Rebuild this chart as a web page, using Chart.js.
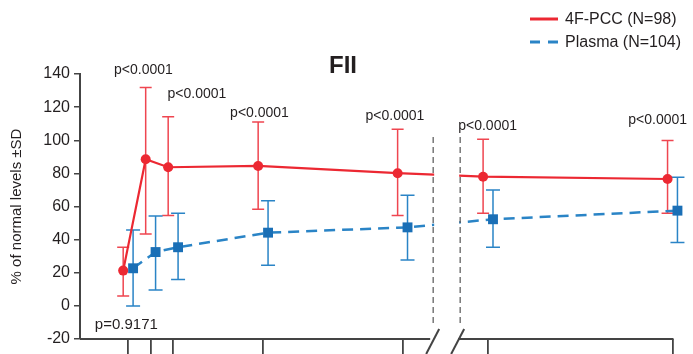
<!DOCTYPE html>
<html>
<head>
<meta charset="utf-8">
<script src="https://cdn.jsdelivr.net/npm/chart.js@4.4.1/dist/chart.umd.min.js"></script>
<style>
  html, body { margin: 0; padding: 0; background: #fff; overflow: hidden; }
  #wrap { width: 693px; height: 354px; position: relative; }
</style>
</head>
<body>
<div id="wrap"><canvas id="c"></canvas></div>
<script>
// FII levels, 4F-PCC vs Plasma, mean +/- SD
// time points sit on an axis with a break between 6.1 and 8
const timePos = [0, 0.5, 1, 3, 6.1, 8, 12.1];

const pccMean = [21.3, 88.5, 83.7, 84.5, 80.1, 78.0, 76.6];
const pccHigh = [35.4, 131.8, 114.2, 111.0, 106.6, 100.6, 99.8];
const pccLow  = [6.0, 43.4, 54.5, 58.3, 54.5, 55.9, 55.9];

const plasmaMean = [22.7, 32.5, 35.4, 44.2, 47.4, 52.3, 57.5];
const plasmaHigh = [45.8, 54.3, 55.9, 63.5, 66.8, 70.0, 77.7];
const plasmaLow  = [0.0, 9.6, 16.0, 24.5, 27.7, 35.4, 38.2];

const yTicks = [-20, 0, 20, 40, 60, 80, 100, 120, 140];

// p-value notes: text, anchor on axis units / data units
const pText = ['p=0.9171', 'p<0.0001', 'p<0.0001', 'p<0.0001', 'p<0.0001', 'p<0.0001', 'p<0.0001'];
const pAtX  = [-0.04, 0.34, 1.53, 2.92, 5.93, 7.99, 11.77];
const pAtY  = [-11.5, 142.5, 128, 116.5, 114.7, 108.6, 112.3];

const breakFrom = 6.78, breakTo = 7.38;

const RED = '#ec2832', RED_BAR = '#ef4650';
const BLUE = '#2a84c6', BLUE_MARK = '#1a6fb6';
const FONT = '"Liberation Sans", Arial, Helvetica, sans-serif';
const SHIFT = 0.11;

const pts = (xs, ys, dx) => xs.map((x, i) => ({ x: x + dx, y: ys[i] }));

const errorBars = {
  id: 'errorBars',
  beforeDatasetsDraw(chart) {
    const { ctx, scales: { x, y } } = chart;
    const sets = [
      { hi: pccHigh, lo: pccLow, dx: -SHIFT, col: RED_BAR, cap: 6 },
      { hi: plasmaHigh, lo: plasmaLow, dx: SHIFT, col: BLUE, cap: 7 }
    ];
    ctx.save();
    sets.forEach(s => {
      ctx.strokeStyle = s.col;
      ctx.lineWidth = 1.5;
      timePos.forEach((t, i) => {
        const px = x.getPixelForValue(t + s.dx);
        const top = y.getPixelForValue(s.hi[i]), bot = y.getPixelForValue(s.lo[i]);
        ctx.beginPath();
        ctx.moveTo(px, top); ctx.lineTo(px, bot);
        ctx.moveTo(px - s.cap, top); ctx.lineTo(px + s.cap, top);
        ctx.moveTo(px - s.cap, bot); ctx.lineTo(px + s.cap, bot);
        ctx.stroke();
      });
    });
    ctx.restore();
  },
  afterDatasetsDraw(chart) {
    const { ctx, chartArea, scales: { x, y } } = chart;
    const b1 = x.getPixelForValue(breakFrom), b2 = x.getPixelForValue(breakTo);
    ctx.save();
    // blank the lines inside the axis break
    ctx.fillStyle = '#fff';
    ctx.fillRect(b1 + 1, chartArea.top - 2, b2 - b1 - 2, chartArea.bottom - chartArea.top);
    // dashed break guides
    ctx.strokeStyle = '#555';
    ctx.lineWidth = 1.2;
    ctx.setLineDash([6, 4]);
    const gTop = y.getPixelForValue(102), gBot = y.getPixelForValue(-12.7);
    [b1, b2].forEach(bx => {
      ctx.beginPath(); ctx.moveTo(bx, gTop); ctx.lineTo(bx, gBot); ctx.stroke();
    });
    ctx.setLineDash([]);
    // x axis line with break slashes
    const ay = chartArea.bottom;
    const xEnd = x.getPixelForValue(timePos[timePos.length - 1]);
    ctx.strokeStyle = '#444';
    ctx.lineWidth = 2;
    ctx.beginPath();
    ctx.moveTo(chartArea.left, ay); ctx.lineTo(b1 - 3, ay);
    ctx.moveTo(b2 - 2, ay); ctx.lineTo(xEnd + 1, ay);
    ctx.stroke();
    [b1, b2 - 2].forEach(bx => {
      ctx.beginPath(); ctx.moveTo(bx - 7, ay + 15); ctx.lineTo(bx + 6, ay - 10); ctx.stroke();
    });
    ctx.restore();
  },
  afterDraw(chart) {
    const { ctx, scales: { x, y } } = chart;
    ctx.save();
    ctx.fillStyle = '#231f20';
    ctx.textAlign = 'center';
    ctx.textBaseline = 'middle';
    pText.forEach((t, i) => {
      ctx.font = (i === 0 ? '15px ' : '14px ') + FONT;
      ctx.fillText(t, x.getPixelForValue(pAtX[i]), y.getPixelForValue(pAtY[i]));
    });
    // panel title
    ctx.font = 'bold 24px ' + FONT;
    ctx.fillText('FII', 343, 66);
    // legend
    const ds = chart.data.datasets;
    ctx.textAlign = 'left';
    ctx.font = '16px ' + FONT;
    ds.forEach((d, i) => {
      const ly = 19 + i * 23;
      ctx.strokeStyle = d.borderColor;
      ctx.lineWidth = 3;
      ctx.setLineDash(i === 0 ? [] : [10, 8]);
      ctx.beginPath(); ctx.moveTo(530, ly); ctx.lineTo(558, ly); ctx.stroke();
      ctx.setLineDash([]);
      ctx.fillStyle = '#231f20';
      ctx.fillText(d.label, 565, ly + 1);
    });
    ctx.restore();
  }
};

new Chart(document.getElementById('c'), {
  type: 'line',
  data: {
    datasets: [
      {
        label: '4F-PCC (N=98)',
        data: pts(timePos, pccMean, -SHIFT),
        borderColor: RED, backgroundColor: RED,
        borderWidth: 2.2, pointRadius: 5, pointStyle: 'circle',
        pointBackgroundColor: RED, pointBorderWidth: 0
      },
      {
        label: 'Plasma (N=104)',
        data: pts(timePos, plasmaMean, SHIFT),
        borderColor: BLUE, backgroundColor: BLUE_MARK,
        borderWidth: 2.5, borderDash: [11, 7],
        pointRadius: 7, pointStyle: 'rect',
        pointBackgroundColor: BLUE_MARK, pointBorderWidth: 0
      }
    ]
  },
  options: {
    responsive: true, maintainAspectRatio: false, animation: false,
    layout: { padding: { top: 74, right: 0, left: 0, bottom: 0 } },
    plugins: { legend: { display: false }, tooltip: { enabled: false } },
    scales: {
      x: {
        type: 'linear', min: -1.07, max: 12.4,
        afterBuildTicks: s => { s.ticks = timePos.map(v => ({ value: v })); },
        afterFit: s => { s.height = 15; },
        border: { display: false },
        grid: { drawOnChartArea: false, tickLength: 15, color: '#444', lineWidth: 1.8 },
        ticks: { display: false }
      },
      y: {
        min: -20, max: 140,
        afterBuildTicks: s => { s.ticks = yTicks.map(v => ({ value: v })); },
        afterFit: s => { s.width = 80; },
        border: { display: true, color: '#444', width: 2 },
        grid: { drawOnChartArea: false, tickLength: 6, color: '#444', lineWidth: 1.5 },
        ticks: { padding: 4, color: '#231f20', font: { family: FONT, size: 16 } },
        title: {
          display: true, text: '% of normal levels ±SD',
          color: '#231f20', font: { family: FONT, size: 15 },
          padding: { top: 8, bottom: 0 }
        }
      }
    }
  },
  plugins: [errorBars]
});
</script>
</body>
</html>
